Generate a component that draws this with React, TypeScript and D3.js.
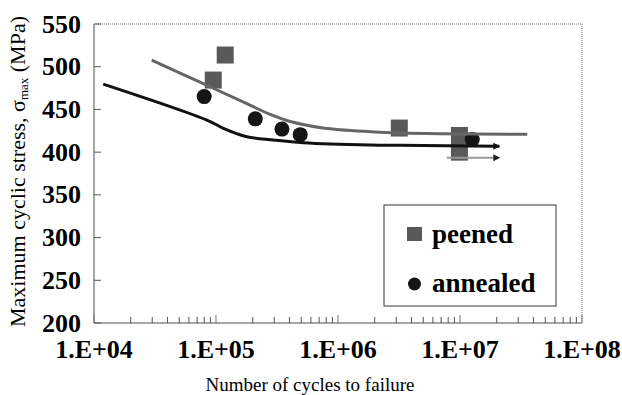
import React from "react";
import * as d3 from "d3";

const xTickValues = [1e4, 1e5, 1e6, 1e7, 1e8];
const xTickLabels = ["1.E+04", "1.E+05", "1.E+06", "1.E+07", "1.E+08"];
const yTickValues = [200, 250, 300, 350, 400, 450, 500, 550];

const peenedN = [9.5e4, 1.19e5, 3.18e6, 9.9e6, 9.9e6];
const peenedS = [484.4, 513.7, 428.2, 419.5, 400];

const annealedN = [8.0e4, 2.1e5, 3.47e5, 4.9e5, 1.26e7];
const annealedS = [465, 439, 427, 420.5, 414.7];

const peenedCurveN = [2.97e4, 7.88e4, 1.79e5, 2.78e5, 4.06e5, 7.56e5, 1.84e6, 3.24e6, 3.56e7];
const peenedCurveS = [507.8, 480.1, 456.7, 444.2, 435.9, 428.3, 423.9, 422.4, 420.8];

const annealedCurveN = [1.19e4, 8.42e4, 1.15e5, 1.79e5, 2.96e5, 5.21e5, 1.84e6, 3.24e6, 2.1e7];
const annealedCurveS = [479.7, 437.6, 427.9, 418.0, 414.2, 411.0, 408.3, 408.0, 407];

const runoutStartN = [7.8e6];
const runoutEndN = [2.1e7];
const runoutS = [393.5];

const W = 622, H = 395;
const L = 94, R = 582, T = 24, B = 323;

export default function App() {
  const x = d3.scaleLog().domain([1e4, 1e8]).range([L, R]);
  const y = d3.scaleLinear().domain([200, 550]).range([B, T]);

  const minor: number[] = [];
  for (let e = 4; e < 8; e++) {
    for (let m = 2; m <= 9; m++) minor.push(m * Math.pow(10, e));
  }

  const line = d3
    .line<[number, number]>()
    .x((d) => x(d[0]))
    .y((d) => y(d[1]))
    .curve(d3.curveCatmullRom.alpha(0.5));

  const peenedPts = peenedCurveN.map((n, i) => [n, peenedCurveS[i]] as [number, number]);
  const annealedPts = annealedCurveN.map((n, i) => [n, annealedCurveS[i]] as [number, number]);

  const arrowHead = (xe: number, ye: number, color: string, key: string) => (
    <path
      key={key}
      d={`M${xe},${ye} L${xe - 7},${ye - 3.5} L${xe - 7},${ye + 3.5} Z`}
      fill={color}
    />
  );

  const serif = "Liberation Serif, DejaVu Serif, Times New Roman, serif";
  const sq = 17;

  return (
    <svg
      width={W}
      height={H}
      style={{ position: "absolute", left: 0, top: 0, background: "#fff" }}
    >
      <rect x={0} y={0} width={W} height={H} fill="#fff" />
      <line x1={L} y1={T} x2={R} y2={T} stroke="#777" strokeWidth={1} strokeDasharray="1,1" />
      <line x1={R} y1={T} x2={R} y2={B} stroke="#777" strokeWidth={1} strokeDasharray="1,1" />
      <line x1={L} y1={T} x2={L} y2={B} stroke="#888" strokeWidth={1.5} />
      <line x1={L} y1={B} x2={R} y2={B} stroke="#888" strokeWidth={1.5} />
      {yTickValues.map((v) => (
        <g key={"yt" + v}>
          <line x1={L} x2={L + 7} y1={y(v)} y2={y(v)} stroke="#555" strokeWidth={1} />
          <text
            x={81}
            y={y(v) + 8.5}
            textAnchor="end"
            fontSize={26}
            fontWeight="bold"
            fill="#000"
            fontFamily={serif}
          >
            {v}
          </text>
        </g>
      ))}
      {minor.map((v) => (
        <line key={"mx" + v} x1={x(v)} x2={x(v)} y1={B} y2={B - 6} stroke="#555" strokeWidth={1} />
      ))}
      {xTickValues.map((v, i) => (
        <g key={"xt" + v}>
          <line x1={x(v)} x2={x(v)} y1={B} y2={B - 8} stroke="#777" strokeWidth={1} />
          <text
            x={x(v)}
            y={358}
            textAnchor="middle"
            fontSize={26}
            fontWeight="bold"
            fill="#000"
            fontFamily={serif}
          >
            {xTickLabels[i]}
          </text>
        </g>
      ))}
      <text x={310} y={391} textAnchor="middle" fontSize={19} fill="#000" fontFamily={serif}>
        Number of cycles to failure
      </text>
      <text
        transform={`translate(25,${(T + B) / 2 - 2}) rotate(-90)`}
        textAnchor="middle"
        fontSize={22}
        fill="#000"
        fontFamily={serif}
      >
        Maximum cyclic stress, σ<tspan fontSize={13} dy={3}>max</tspan>
        <tspan dy={-3}> (MPa)</tspan>
      </text>
      {peenedN.map((n, i) => (
        <rect
          key={"p" + i}
          x={x(n) - sq / 2}
          y={y(peenedS[i]) - sq / 2}
          width={sq}
          height={sq}
          fill="#595959"
        />
      ))}
      {annealedN.map((n, i) => (
        <circle key={"a" + i} cx={x(n)} cy={y(annealedS[i])} r={7.5} fill="#151515" />
      ))}
      <path d={line(peenedPts) || ""} fill="none" stroke="#666" strokeWidth={3} />
      <path d={line(annealedPts) || ""} fill="none" stroke="#111" strokeWidth={3} />
      {arrowHead(
        x(annealedCurveN[annealedCurveN.length - 1]) + 1,
        y(annealedCurveS[annealedCurveS.length - 1]),
        "#111",
        "ah1"
      )}
      {runoutStartN.map((n, i) => (
        <g key={"ro" + i}>
          <line
            x1={x(n)}
            x2={x(runoutEndN[i]) - 4}
            y1={y(runoutS[i])}
            y2={y(runoutS[i])}
            stroke="#999"
            strokeWidth={2}
          />
          {arrowHead(x(runoutEndN[i]) + 1, y(runoutS[i]), "#222", "ah2" + i)}
        </g>
      ))}
      <rect x={384} y={205} width={172} height={101} fill="#fff" stroke="#333" strokeWidth={1} />
      <rect x={407} y={227} width={15} height={14} fill="#595959" />
      <text x={432} y={243} fontSize={27} fontWeight="bold" fill="#000" fontFamily={serif}>
        peened
      </text>
      <circle cx={414.5} cy={284} r={6.5} fill="#151515" />
      <text x={432} y={292} fontSize={27} fontWeight="bold" fill="#000" fontFamily={serif}>
        annealed
      </text>
    </svg>
  );
}
